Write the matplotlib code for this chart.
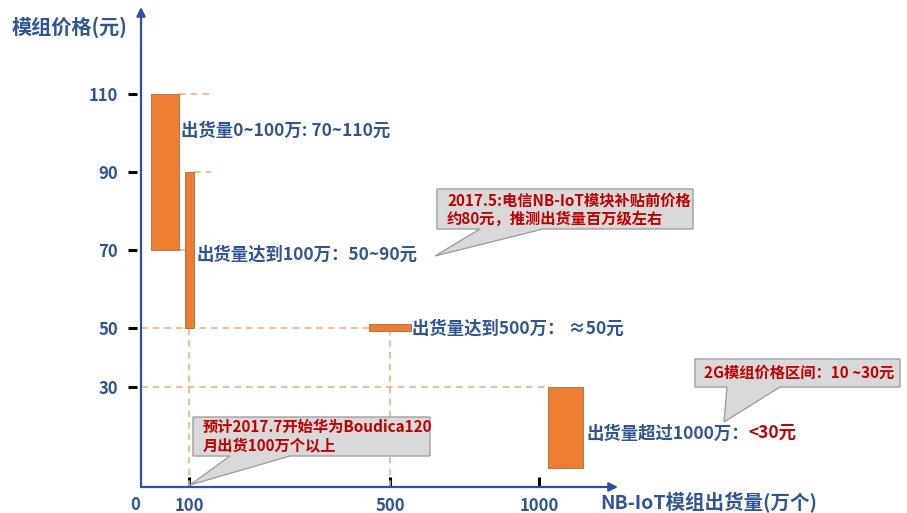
import numpy as np
import matplotlib
matplotlib.use("Agg")
import matplotlib.pyplot as plt
from matplotlib.patches import Polygon

plt.rcParams['font.family'] = ['Noto Sans CJK SC', 'DejaVu Sans']

# ---- data -------------------------------------------------------------
stage_volume = [50, 100, 500, 1090]     # 出货量 (万个), bar centre
price_low = [70, 50, 49, 10]            # 元
price_high = [110, 90, 51, 30]          # 元
x_ticks = [100, 500, 1000]
y_ticks = [30, 50, 70, 90, 110]

# ---- styles -----------------------------------------------------------
BLUE = '#2F5597'
AXIS_BLUE = '#3050A0'
RED = '#C00000'
ORANGE = '#ED7D31'
GUIDE = '#F4B183'
bar_width_px = [28, 9, 42, 35]

W, H = 907, 513
fig = plt.figure(figsize=(W / 100, H / 100), dpi=100)

# axes area in pixels: x 141..618, y 7..487 (from top)
AX_L, AX_R, AX_T, AX_B = 141, 618, 7, 487
ax = fig.add_axes([AX_L / W, (H - AX_B) / H, (AX_R - AX_L) / W, (AX_B - AX_T) / H])

# piecewise (hand-drawn style) axis scales, in pixel-like units
X_VAL = [0, 100, 500, 1000, 1400]
X_POS = [0, 48, 249, 398, 517.2]
Y_VAL = [0, 10, 30, 50, 110, 150]
Y_POS = [-21.5, 19, 100, 159, 393, 549]


def fx(v):
    return np.interp(v, X_VAL, X_POS)


def ix(u):
    return np.interp(u, X_POS, X_VAL)


def fy(v):
    return np.interp(v, Y_VAL, Y_POS)


def iy(u):
    return np.interp(u, Y_POS, Y_VAL)


ax.set_xscale('function', functions=(fx, ix))
ax.set_yscale('function', functions=(fy, iy))
ax.set_xlim(0, float(ix(AX_R - AX_L)))
ax.set_ylim(float(iy(0)), float(iy(AX_B - AX_T)))

# ---- floating price bars ---------------------------------------------
lefts, rights = [], []
for v, lo, hi, w in zip(stage_volume, price_low, price_high, bar_width_px):
    c = fx(v)
    left, right = float(ix(c - w / 2)), float(ix(c + w / 2))
    lefts.append(left)
    rights.append(right)
    ax.bar(left, hi - lo, width=right - left, bottom=lo, align='edge',
           color=ORANGE, edgecolor='#A86A45', linewidth=0.6, zorder=3)

# ---- dashed guide lines ----------------------------------------------
gk = dict(colors=GUIDE, linestyles=(0, (4, 3)), linewidth=1.2, zorder=2)
ax.hlines(price_high[0], rights[0], float(ix(71)), **gk)
ax.hlines(price_high[1], rights[1], float(ix(70)), **gk)
ax.hlines(price_low[0], rights[0], lefts[1], **gk)
ax.hlines(50, 0, lefts[2], **gk)
ax.hlines(price_high[3], 0, lefts[3], **gk)
ax.vlines(stage_volume[1], float(iy(0)), price_low[1], **gk)
ax.vlines(stage_volume[2], float(iy(0)), price_low[2], **gk)

# ---- axes, ticks -----------------------------------------------------
for s in ax.spines.values():
    s.set_color('none')
ax.spines['left'].set_position(('outward', 3))
ax.set_xticks(x_ticks)
ax.set_xticklabels([str(t) for t in x_ticks], fontweight='bold')
ax.set_yticks(y_ticks)
ax.set_yticklabels([str(t) for t in y_ticks], fontweight='bold')
ax.minorticks_off()
ax.tick_params(axis='x', direction='in', length=7, width=2.2, color='black',
               pad=7, labelsize=12, labelcolor=BLUE)
ax.tick_params(axis='y', direction='out', length=6.5, width=2.2, color='black',
               pad=7, labelsize=12, labelcolor=BLUE)
ax.patch.set_alpha(0)

arrow = dict(arrowstyle='-|>', color=AXIS_BLUE, lw=1.6, mutation_scale=13,
             shrinkA=0, shrinkB=0)
ax.annotate('', xy=(0, 1), xytext=(0, 0), xycoords='axes fraction', arrowprops=arrow)
ax.annotate('', xy=(1, 0), xytext=(0, 0), xycoords='axes fraction', arrowprops=arrow)

# ---- overlay for titles, labels and callouts (pixel coordinates) -------
ov = fig.add_axes([0, 0, 1, 1], zorder=5)
ov.set_xlim(0, W)
ov.set_ylim(H, 0)
ov.axis('off')

ov.text(12, 27, '模组价格(元)', fontsize=14.5, fontweight='bold', color=BLUE,
        va='center', ha='left')
ov.text(600, 503, 'NB-IoT模组出货量(万个)', fontsize=14, fontweight='bold',
        color=BLUE, va='center', ha='left')
ov.text(135, 505, '0', fontsize=12, fontweight='bold', color=BLUE,
        va='center', ha='center')

lk = dict(fontsize=12.5, fontweight='bold', color=BLUE, va='center', ha='left')
ov.text(181, 131, f'出货量0~100万: {price_low[0]}~{price_high[0]}元', **lk)
ov.text(197, 255, f'出货量达到100万：{price_low[1]}~{price_high[1]}元', **lk)
ov.text(412, 329, '出货量达到500万： ≈50元', **lk)
t4 = ov.text(586, 434, '出货量超过1000万：', **lk)
ov.annotate(f'<{price_high[3]}元', xy=(1, 0.5), xycoords=t4, va='center', ha='left',
            fontsize=12.5, fontweight='bold', color=RED)


def callout(x0, y0, x1, y1, b0, b1, tip):
    pts = [(x0, y0), (x1, y0), (x1, y1), (b1, y1), tip, (b0, y1), (x0, y1)]
    ov.add_patch(Polygon(pts, closed=True, facecolor='#D9D9D9',
                         edgecolor='#A0A0A0', linewidth=1.0, zorder=4))


ck = dict(fontsize=11, fontweight='bold', color=RED, va='center', ha='left', zorder=6)

callout(437, 189, 693, 229, 480, 543, (435, 256))
ov.text(447, 200, '2017.5:电信NB-IoT模块补贴前价格', **ck)
ov.text(447, 219, '约80元，推测出货量百万级左右', **ck)

callout(193, 417, 430, 456, 230, 290, (190, 485))
ov.text(203, 427, '预计2017.7开始华为Boudica120', **ck)
ov.text(203, 446, '月出货100万个以上', **ck)

callout(695, 359, 900, 387, 727, 780, (724, 422))
ov.text(704, 373, '2G模组价格区间：10 ~30元', **ck)

fig.savefig('out.png', dpi=100)
